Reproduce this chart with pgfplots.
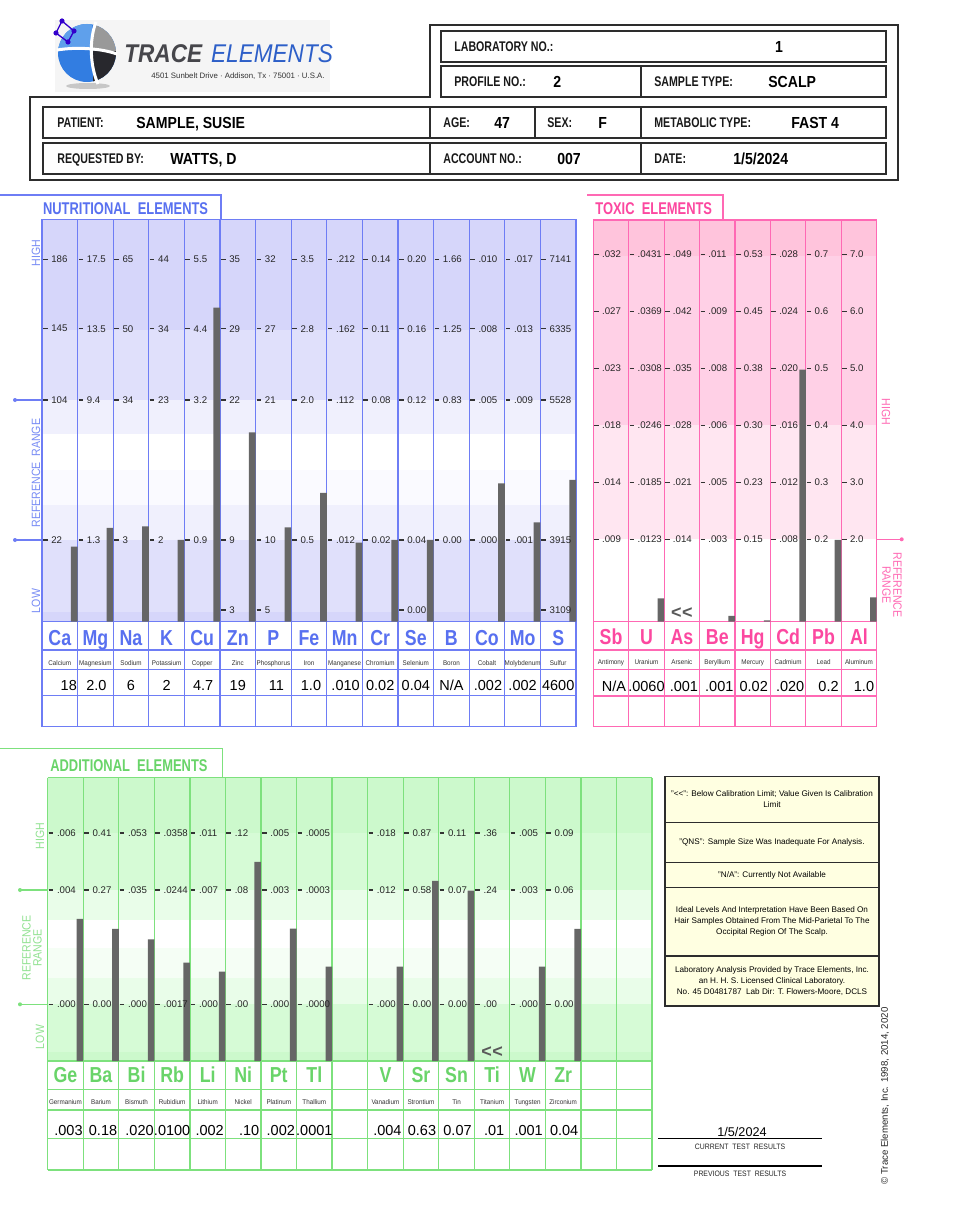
\documentclass[border=0pt]{standalone}
\usepackage{pgfplots}
\pgfplotsset{compat=1.18}
\usepackage{fontspec}
\setmainfont{Liberation Sans}
\newfontfamily\cA{Liberation Sans}[FakeStretch=0.76]
\newfontfamily\cB{Liberation Sans}[FakeStretch=0.88]
\newfontfamily\cC{Liberation Sans}[FakeStretch=0.92]
\newfontfamily\cS{Liberation Sans}[FakeStretch=0.82]
\newcommand\fs[1]{\fontsize{#1}{#1}\selectfont}
\newcommand\NA{N/A}
\definecolor{nline}{RGB}{110,125,245}
\definecolor{nsym}{RGB}{88,112,240}
\definecolor{nside}{RGB}{120,140,245}
\definecolor{nb1}{RGB}{214,214,250}
\definecolor{nb2}{RGB}{224,224,251}
\definecolor{nb3}{RGB}{240,240,253}
\definecolor{nb4}{RGB}{250,250,255}
\definecolor{tline}{RGB}{255,105,180}
\definecolor{tsym}{RGB}{252,72,160}
\definecolor{tb1}{RGB}{255,196,220}
\definecolor{tb2}{RGB}{255,208,230}
\definecolor{tb3}{RGB}{255,230,241}
\definecolor{aline}{RGB}{125,225,125}
\definecolor{asym}{RGB}{105,212,105}
\definecolor{aside}{RGB}{145,226,145}
\definecolor{ab1}{RGB}{204,249,204}
\definecolor{ab2}{RGB}{214,251,214}
\definecolor{ab3}{RGB}{233,253,233}
\definecolor{ab4}{RGB}{245,254,245}
\definecolor{bargray}{RGB}{102,102,102}
\definecolor{legbg}{RGB}{255,255,225}
\definecolor{hdr}{RGB}{45,45,45}
\definecolor{logoblue}{RGB}{50,125,225}
\definecolor{logoblueL}{RGB}{95,160,235}
\definecolor{logodark}{RGB}{40,40,45}
\definecolor{logotxt}{RGB}{70,70,75}
\definecolor{logoblue2}{RGB}{45,95,200}
\begin{document}
\begin{tikzpicture}[
  pxs/.style={x=0.6pt,y=-0.6pt},
  nl/.style={draw=nline,line width=0.75pt},
  tl/.style={draw=tline,line width=0.75pt},
  al/.style={draw=aline,line width=0.75pt},
  hl/.style={draw=hdr,line width=0.9pt},
  tickd/.style={draw=black!80,line width=0.8pt},
  tlab/.style={anchor=west,inner sep=0pt,font=\fs{5.8},text=black!85},
  hlab/.style={anchor=base west,inner sep=0pt,font=\cA\bfseries\fs{8.4},text=black!90},
  hval/.style={anchor=base west,inner sep=0pt,font=\cB\bfseries\fs{9.6},text=black}
]
% ---------------- backgrounds ----------------
\begin{scope}[pxs]
\useasboundingbox (0,0) rectangle (965,1229);
\fill[white] (0,0) rectangle (965,1229);
% logo
\fill[black!4] (55,20) rectangle (330,92);
\fill[black!22] (88,86) ellipse (22 and 3);
\begin{scope}
\clip (87,53) circle (29);
\fill[logoblue] (50,20) rectangle (125,90);
\fill[logoblueL] (50,20) rectangle (92,50);
\fill[black!40] (93,20) rectangle (125,51);
\fill[logodark] (93,51) rectangle (125,90);
\end{scope}
\draw[white,line width=1.8pt] (96,22) .. controls (89,40) and (90,66) .. (98,84);
\draw[white,line width=1.8pt] (57,50) .. controls (75,47) and (100,48) .. (117,54);
\draw[blue!60!violet,line width=0.8pt] (62,21) -- (56,33) -- (68,42) -- (74,31) -- (62,21);
\foreach \p in {(62,21),(56,33),(68,42),(74,31)} \fill[blue!60!violet] \p circle (2.6);
% nutritional bands
\fill[nb1] (42,219.3) rectangle (576,330);
\fill[nb2] (42,330) rectangle (576,400);
\fill[nb3] (42,400) rectangle (576,434);
\fill[nb4] (42,470) rectangle (576,505);
\fill[nb3] (42,505) rectangle (576,540);
\fill[nb2] (42,540) rectangle (576,612);
\fill[nb1] (42,612) rectangle (576,621.7);
% toxic bands
\fill[tb1] (593.3,220) rectangle (876.7,256);
\fill[tb2] (593.3,256) rectangle (876.7,425.3);
\fill[tb3] (593.3,425.3) rectangle (876.7,539.3);
% additional bands
\fill[ab1] (47.7,777.7) rectangle (652,833);
\fill[ab2] (47.7,833) rectangle (652,890);
\fill[ab3] (47.7,890) rectangle (652,920);
\fill[ab4] (47.7,948) rectangle (652,978);
\fill[ab3] (47.7,978) rectangle (652,1004.3);
\fill[ab2] (47.7,1004.3) rectangle (652,1052);
\fill[ab1] (47.7,1052) rectangle (652,1061);
% legend box fill
\fill[legbg] (665,776.7) rectangle (879,1006);
% ---------------- grid lines ----------------
\foreach \k in {0,...,15} \draw[nl] ({42+\k*35.6},219.3) -- ({42+\k*35.6},726.7);
\foreach \yy in {219.3,621.7,650,669.7,695.7,726.7} \draw[nl] (42,\yy) -- (576,\yy);
\draw[nl] (0,195) -- (221,195) -- (221,219.3);
\foreach \k in {0,...,8} \draw[tl] ({593.3+\k*35.425},220) -- ({593.3+\k*35.425},726.7);
\foreach \yy in {220,621.7,650,669.3,696,726.7} \draw[tl] (593.3,\yy) -- (876.7,\yy);
\draw[tl] (587,195) -- (723,195) -- (723,220);
\foreach \k in {0,...,17} \draw[al] ({47.7+\k*35.55},777.7) -- ({47.7+\k*35.55},1170);
\foreach \yy in {777.7,1061,1089.3,1110,1138.3,1170} \draw[al] (47.7,\yy) -- (652,\yy);
\draw[al] (0,748.3) -- (222.7,748.3) -- (222.7,777.7);
% reference markers
\draw[nl] (15,400) -- (42,400); \fill[nline] (15,400) circle (2);
\draw[nl] (15,540) -- (42,540); \fill[nline] (15,540) circle (2);
\draw[tl] (876.7,539.3) -- (901.7,539.3); \fill[tline] (901.7,539.3) circle (2);
\draw[al] (20,890) -- (47.7,890); \fill[aline] (20,890) circle (2);
\draw[al] (20,1004.3) -- (47.7,1004.3); \fill[aline] (20,1004.3) circle (2);
% header boxes
\draw[hl] (430,25) -- (898,25) -- (898,180) -- (30,180) -- (30,97) -- (430,97) -- cycle;
\draw[hl] (441,31) rectangle (886,62);
\draw[hl] (441,66) rectangle (886,97); \draw[hl] (641,66) -- (641,97);
\draw[hl] (43,107) rectangle (886,138);
\foreach \xx in {430,535,641} \draw[hl] (\xx,107) -- (\xx,138);
\draw[hl] (43,143) rectangle (886,174);
\foreach \xx in {430,641} \draw[hl] (\xx,143) -- (\xx,174);
% legend box lines
\draw[hl] (665,776.7) rectangle (879,1006);
\foreach \yy in {822.7,862.3,887.7,956} \draw[hl] (665,\yy) -- (879,\yy);
% test results lines
\draw[black,line width=0.8pt] (658,1138.5) -- (822,1138.5);
\draw[black,line width=0.8pt] (658,1166) -- (822,1166);
\end{scope}

% ---------------- bars (pgfplots) ----------------
\begin{axis}[at={(25.2pt,-373.02pt)},anchor=south west,scale only axis,
  width=320.4pt,height=241.44pt,xmin=0.5,xmax=15.5,ymin=0,ymax=402.4,
  hide axis,ybar,clip=false]
\addplot[fill=bargray,draw=none,bar width=0.188,bar shift=0.406] coordinates {
 (1,75.0) (2,93.7) (3,95.4) (4,81.7) (5,314.0) (6,189.4) (7,94.4) (8,128.7)
 (9,79.0) (10,81.7) (11,81.7) (13,138.4) (14,99.4) (15,141.7)};
\end{axis}
\begin{axis}[at={(355.98pt,-373.02pt)},anchor=south west,scale only axis,
  width=170.04pt,height=241.02pt,xmin=0.5,xmax=8.5,ymin=0,ymax=401.7,
  hide axis,ybar,clip=false]
\addplot[fill=bargray,draw=none,bar width=0.186,bar shift=0.407] coordinates {
 (2,23.4) (4,5.7) (5,1.4) (6,252.0) (7,81.7) (8,24.4)};
\end{axis}
\begin{axis}[at={(28.62pt,-636.6pt)},anchor=south west,scale only axis,
  width=362.58pt,height=169.98pt,xmin=0.5,xmax=17.5,ymin=0,ymax=283.3,
  hide axis,ybar,clip=false]
\addplot[fill=bargray,draw=none,bar width=0.185,bar shift=0.4075] coordinates {
 (1,142.0) (2,132.0) (3,121.7) (4,98.3) (5,89.3) (6,199.0) (7,132.3) (8,94.3)
 (10,94.3) (11,180.0) (12,170.3) (14,94.3) (15,132.0)};
\end{axis}

% ---------------- text ----------------
\begin{scope}[pxs]
% logo text
\node[anchor=base west,inner sep=0pt,font=\cB\fs{15.4}] at (124,63)
  {\textcolor{logotxt}{\bfseries\itshape TRACE}\hspace{5.4pt}\textcolor{logoblue2}{\itshape ELEMENTS}};
\node[anchor=base west,inner sep=0pt,font=\fs{4.7},text=black!80] at (151,79)
  {4501 Sunbelt Drive · Addison, Tx · 75001 · U.S.A.};
% header text
\node[hlab] at (454,51.6) {LABORATORY NO.:};
\node[hval,anchor=base] at (779,52.2) {1};
\node[hlab] at (454,86.6) {PROFILE NO.:};
\node[hval] at (553,87.2) {2};
\node[hlab] at (654,86.6) {SAMPLE TYPE:};
\node[hval] at (768,87.2) {SCALP};
\node[hlab] at (57,127.8) {PATIENT:};
\node[hval] at (136,128.4) {SAMPLE, SUSIE};
\node[hlab] at (443,127.8) {AGE:};
\node[hval] at (494,128.4) {47};
\node[hlab] at (547,127.8) {SEX:};
\node[hval] at (598,128.4) {F};
\node[hlab] at (654,127.8) {METABOLIC TYPE:};
\node[hval] at (791,128.4) {FAST 4};
\node[hlab] at (57,163.5) {REQUESTED BY:};
\node[hval] at (170,164.1) {WATTS, D};
\node[hlab] at (443,163.5) {ACCOUNT NO.:};
\node[hval] at (557,164.1) {007};
\node[hlab] at (654,163.5) {DATE:};
\node[hval] at (733,164.1) {1/5/2024};
% section titles
\node[anchor=base west,inner sep=0pt,font=\cA\bfseries\fs{10.2},text=nsym] at (42.7,214.4) {NUTRITIONAL\ \ ELEMENTS};
\node[anchor=base west,inner sep=0pt,font=\cA\bfseries\fs{10.2},text=tsym] at (595,214.4) {TOXIC\ \ ELEMENTS};
\node[anchor=base west,inner sep=0pt,font=\cA\bfseries\fs{10.2},text=asym] at (50,771) {ADDITIONAL\ \ ELEMENTS};
% side labels
\node[rotate=90,inner sep=0pt,font=\cB\fs{7.2},text=nside] at (36,253) {HIGH};
\node[rotate=90,inner sep=0pt,font=\cB\fs{7.2},text=nside] at (36,473) {REFERENCE\ \ RANGE};
\node[rotate=90,inner sep=0pt,font=\cB\fs{7.2},text=nside] at (36,601) {LOW};
\node[rotate=-90,inner sep=0pt,font=\cB\fs{7.2},text=tline] at (886,412) {HIGH};
\node[rotate=-90,inner sep=0pt,font=\cB\fs{7.2},text=tline,align=center] at (892,585) {REFERENCE\\[-0.5pt]RANGE};
\node[rotate=90,inner sep=0pt,font=\cB\fs{7.2},text=aside] at (40,836) {HIGH};
\node[rotate=90,inner sep=0pt,font=\cB\fs{7.2},text=aside,align=center] at (32,948) {REFERENCE\\[-0.5pt]RANGE};
\node[rotate=90,inner sep=0pt,font=\cB\fs{7.2},text=aside] at (40,1037) {LOW};
% nutritional tick labels
\foreach \i/\a/\b/\c/\d in {1/186/145/104/22, 2/17.5/13.5/9.4/1.3, 3/65/50/34/3, 4/44/34/23/2,
  5/5.5/4.4/3.2/0.9, 6/35/29/22/9, 7/32/27/21/10, 8/3.5/2.8/2.0/0.5, 9/.212/.162/.112/.012,
  10/0.14/0.11/0.08/0.02, 11/0.20/0.16/0.12/0.04, 12/1.66/1.25/0.83/0.00, 13/.010/.008/.005/.000,
  14/.017/.013/.009/.001, 15/7141/6335/5528/3915}{
  \pgfmathsetmacro\xl{42+(\i-1)*35.6}
  \foreach \v/\yy in {\a/259.3,\b/328.7,\c/400,\d/540}{
    \draw[tickd] (\xl+1,\yy) -- (\xl+5.5,\yy);
    \node[tlab] at (\xl+9,\yy) {\v};
  }
}
\foreach \i/\v in {6/3,7/5,11/0.00,15/3109}{
  \pgfmathsetmacro\xl{42+(\i-1)*35.6}
  \draw[tickd] (\xl+1,610) -- (\xl+5.5,610);
  \node[tlab] at (\xl+9,610) {\v};
}
% toxic tick labels
\foreach \i/\a/\b/\c/\d/\e/\f in {1/.032/.027/.023/.018/.014/.009, 2/.0431/.0369/.0308/.0246/.0185/.0123,
  3/.049/.042/.035/.028/.021/.014, 4/.011/.009/.008/.006/.005/.003, 5/0.53/0.45/0.38/0.30/0.23/0.15,
  6/.028/.024/.020/.016/.012/.008, 7/0.7/0.6/0.5/0.4/0.3/0.2, 8/7.0/6.0/5.0/4.0/3.0/2.0}{
  \pgfmathsetmacro\xl{593.3+(\i-1)*35.425}
  \foreach \v/\yy in {\a/254.3,\b/311.3,\c/368.3,\d/425.3,\e/482.3,\f/539.3}{
    \draw[tickd] (\xl+1,\yy) -- (\xl+5.5,\yy);
    \node[tlab] at (\xl+8.5,\yy) {\v};
  }
}
% additional tick labels
\foreach \i/\a/\b/\c in {1/.006/.004/.000, 2/0.41/0.27/0.00, 3/.053/.035/.000, 4/.0358/.0244/.0017,
  5/.011/.007/.000, 6/.12/.08/.00, 7/.005/.003/.000, 8/.0005/.0003/.0000, 10/.018/.012/.000,
  11/0.87/0.58/0.00, 12/0.11/0.07/0.00, 13/.36/.24/.00, 14/.005/.003/.000, 15/0.09/0.06/0.00}{
  \pgfmathsetmacro\xl{47.7+(\i-1)*35.55}
  \foreach \v/\yy in {\a/833,\b/890,\c/1004.3}{
    \draw[tickd] (\xl+1,\yy) -- (\xl+5.5,\yy);
    \node[tlab] at (\xl+9,\yy) {\v};
  }
}
% nutritional symbols, names, values
\foreach \i/\s/\n/\v/\o in {1/Ca/Calcium/18/9, 2/Mg/Magnesium/2.0/1, 3/Na/Sodium/6/0, 4/K/Potassium/2/0,
  5/Cu/Copper/4.7/1, 6/Zn/Zinc/19/0, 7/P/Phosphorus/11/3, 8/Fe/Iron/1.0/2, 9/Mn/Manganese/.010/1,
  10/Cr/Chromium/0.02/0, 11/Se/Selenium/0.04/0, 12/B/Boron/\NA/0, 13/Co/Cobalt/.002/1,
  14/Mo/Molybdenum/.002/0, 15/S/Sulfur/4600/0}{
  \pgfmathsetmacro\cx{42+(\i-0.5)*35.6}
  \node[anchor=base,inner sep=0pt,font=\cS\bfseries\fs{13},text=nsym] at (\cx,645) {\s};
  \node[anchor=base,inner sep=0pt,font=\cC\fs{4.1},text=black!80] at (\cx,665) {\n};
  \node[anchor=base,inner sep=0pt,font=\fs{8.7},text=black] at (\cx+\o,690.7) {\v};
}
% toxic symbols, names, values
\foreach \i/\s/\n/\v/\o in {1/Sb/Antimony/\NA/3, 2/U/Uranium/.0060/0, 3/As/Arsenic/.001/2,
  4/Be/Beryllium/.001/2, 5/Hg/Mercury/0.02/1, 6/Cd/Cadmium/.020/2, 7/Pb/Lead/0.2/5, 8/Al/Aluminum/1.0/5}{
  \pgfmathsetmacro\cx{593.3+(\i-0.5)*35.425}
  \node[anchor=base,inner sep=0pt,font=\cS\bfseries\fs{13},text=tsym] at (\cx,644.5) {\s};
  \node[anchor=base,inner sep=0pt,font=\cC\fs{4.1},text=black!80] at (\cx,664.5) {\n};
  \node[anchor=base,inner sep=0pt,font=\fs{8.7},text=black] at (\cx+\o,691.5) {\v};
}
% additional symbols, names, values
\foreach \i/\s/\n/\v/\o in {1/Ge/Germanium/.003/3, 2/Ba/Barium/0.18/2, 3/Bi/Bismuth/.020/3,
  4/Rb/Rubidium/.0100/0, 5/Li/Lithium/.002/2, 6/Ni/Nickel/.10/6, 7/Pt/Platinum/.002/2,
  8/Tl/Thallium/.0001/0, 10/V/Vanadium/.004/2, 11/Sr/Strontium/0.63/1, 12/Sn/Tin/0.07/1,
  13/Ti/Titanium/.01/2, 14/W/Tungsten/.001/1, 15/Zr/Zirconium/0.04/1}{
  \pgfmathsetmacro\cx{47.7+(\i-0.5)*35.55}
  \node[anchor=base,inner sep=0pt,font=\cS\bfseries\fs{13},text=asym] at (\cx,1082) {\s};
  \node[anchor=base,inner sep=0pt,font=\cC\fs{4.1},text=black!80] at (\cx,1104) {\n};
  \node[anchor=base,inner sep=0pt,font=\fs{8.7},text=black] at (\cx+\o,1135) {\v};
}
% below-calibration markers
\node[inner sep=0pt,font=\bfseries\fs{10.8},text=black!65] at (681.9,612.7) {<\kern0.3pt<};
\node[inner sep=0pt,font=\bfseries\fs{10.8},text=black!65] at (492.1,1051.7) {<\kern0.3pt<};
% legend text
\node[align=center,inner sep=0pt,font=\fontsize{4.9}{6.6}\selectfont] at (772,799.5)
  {"<\kern0pt<": Below Calibration Limit; Value Given Is Calibration\\Limit};
\node[align=center,inner sep=0pt,font=\fontsize{4.9}{6.6}\selectfont] at (772,842.5)
  {"QNS": Sample Size Was Inadequate For Analysis.};
\node[align=center,inner sep=0pt,font=\fontsize{4.9}{6.6}\selectfont] at (772,875)
  {"N/A": Currently Not Available};
\node[align=center,inner sep=0pt,font=\fontsize{4.9}{6.6}\selectfont] at (772,921)
  {Ideal Levels And Interpretation Have Been Based On\\Hair Samples Obtained From The Mid-Parietal To The\\Occipital Region Of The Scalp.};
\node[align=center,inner sep=0pt,font=\fontsize{4.9}{6.6}\selectfont] at (772,981.5)
  {Laboratory Analysis Provided by Trace Elements, Inc.\\an H. H. S. Licensed Clinical Laboratory.\\No. 45 D0481787\ \ Lab Dir: T. Flowers-Moore, DCLS};
% test results
\node[anchor=base,inner sep=0pt,font=\fs{7.6}] at (742,1136) {1/5/2024};
\node[anchor=base,inner sep=0pt,font=\cB\fs{4.7},text=black!85] at (740,1149) {CURRENT\ \ TEST\ \ RESULTS};
\node[anchor=base,inner sep=0pt,font=\cB\fs{4.7},text=black!85] at (740,1176) {PREVIOUS\ \ TEST\ \ RESULTS};
% copyright
\node[rotate=90,inner sep=0pt,font=\fs{5.8},text=black!85] at (885,1096) {© Trace Elements, Inc. 1998, 2014, 2020};
\end{scope}
\end{tikzpicture}
\end{document}
